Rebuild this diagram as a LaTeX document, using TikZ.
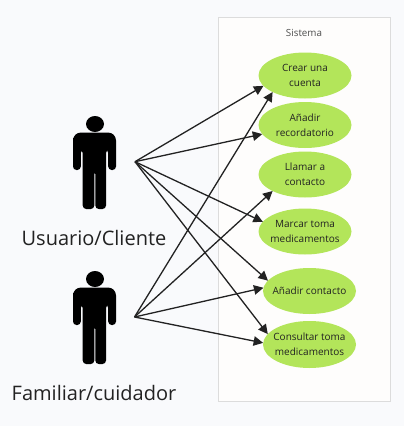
\documentclass[tikz,border=0pt]{standalone}
\usepackage{fontspec}
\setmainfont{Open Sans}
\usetikzlibrary{shapes.geometric,arrows.meta}
\definecolor{pagebg}{HTML}{F9FAFC}
\definecolor{boxbg}{HTML}{FEFDFC}
\definecolor{boxline}{HTML}{DCDCDC}
\definecolor{uc}{HTML}{B3E55A}
\definecolor{ink}{HTML}{222222}
\tikzset{
  usecase/.style={ellipse,fill=uc,draw=none,inner xsep=-14pt,inner ysep=-8pt,outer sep=0pt,minimum width=93pt,minimum height=46pt,align=center,font=\fontsize{10}{14.7}\selectfont,text=ink},
  link/.style={draw=ink,line width=1.3pt,-{Triangle[length=9.5pt,width=9.5pt]}},
  actorlabel/.style={font=\fontsize{20}{24}\selectfont,text=ink,inner sep=0pt},
  actorpic/.pic={
    \fill[black] (0.5,-37.5) ellipse[x radius=9,y radius=8];
    \fill[black,rounded corners=3.5pt] (-21.5,8.5) -- (-21.5,-20) [rounded corners=8pt] -- (-21.5,-29) -- (21.5,-29) [rounded corners=3.5pt] -- (21.5,8.5) -- (13.7,8.5) -- (13.7,-12) -- (11.5,-12) -- (11.5,47.5) -- (0.8,47.5) -- (0.8,9) -- (-0.2,9) -- (-0.2,47.5) -- (-11.8,47.5) -- (-11.8,-12) -- (-13.7,-12) -- (-13.7,8.5) -- cycle;
  }
}
\begin{document}
\begin{tikzpicture}[x=1pt,y=-1pt]
\useasboundingbox (0,0) rectangle (404,426);
\fill[pagebg] (0,0) rectangle (404,426);
\node[draw=boxline,fill=boxbg,line width=1pt,minimum width=171.5pt,minimum height=384.5pt,inner sep=0pt,outer sep=0pt] (sys) at (304.25,209.5) {};
\node[font=\fontsize{9.8}{10}\selectfont,text=ink!80,inner sep=0pt] (syslabel) at (304,32.5) {Sistema};
\node[usecase] (e1) at (305,75.5) {Crear una\\cuenta};
\node[usecase] (e2) at (305,125) {Añadir\\recordatorio};
\node[usecase] (e3) at (305,174.5) {Llamar a\\contacto};
\node[usecase] (e4) at (305,231.5) {Marcar toma\\medicamentos};
\node[usecase] (e5) at (309.5,291) {Añadir contacto};
\node[usecase,minimum height=47pt] (e6) at (309.5,344.5) {Consultar toma\\medicamentos};
\pic at (94.5,161.5) {actorpic};
\pic at (94.5,316.5) {actorpic};
\node[actorlabel] (u) at (94,238) {Usuario/Cliente};
\node[actorlabel] (f) at (94,393) {Familiar/cuidador};
\coordinate (a1) at (135,161.7);
\coordinate (a2) at (134.5,317);
\draw[link] (a1) -- (e1.194);
\draw[link] (a1) -- (e2.192);
\draw[link] (a1) -- (e4.167);
\draw[link] (a1) -- (e5.166);
\draw[link] (a1) -- (e6.166);
\draw[link] (a2) -- (e1.207);
\draw[link] (a2) -- (e3.207);
\draw[link] (a2) -- (e5.176);
\draw[link] (a2) -- (e6.178);
\end{tikzpicture}
\end{document}
